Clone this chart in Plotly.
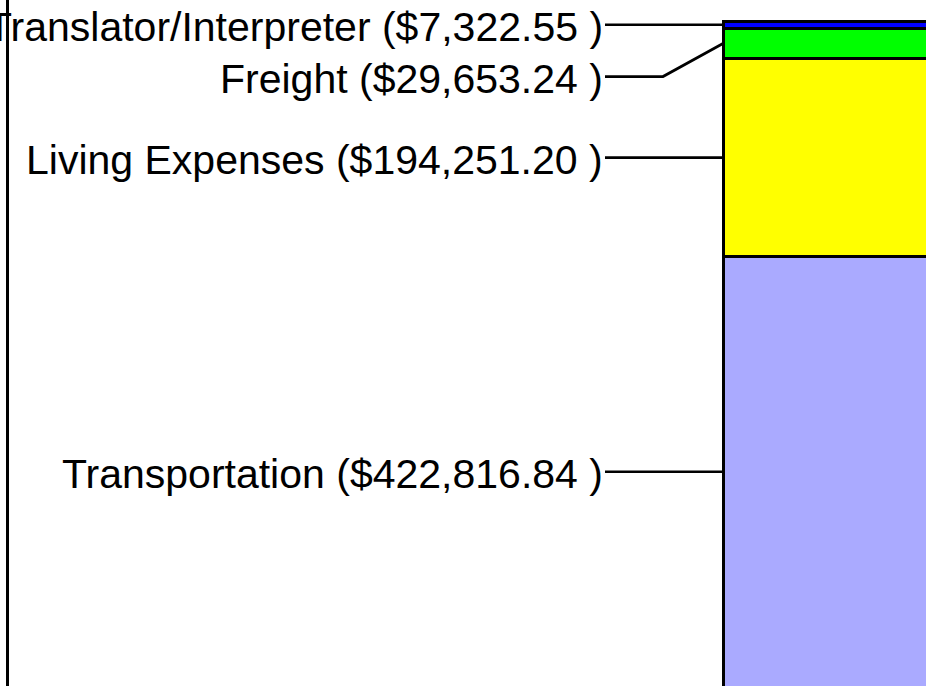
import plotly.graph_objects as go

# ---- data ----
categories = ["Transportation", "Living Expenses", "Freight", "Translator/Interpreter"]
values = [422816.84, 194251.20, 29653.24, 7322.55]
colors = ["#AAAAFF", "#FFFF00", "#00FF00", "#0000FF"]
labels = [f"{c} (${v:,.2f} )" for c, v in zip(categories, values)]

# ---- layout constants (pixels) ----
W, H = 926, 686
BAR_TOP_PX, BAR_BOTTOM_PX = 21, 687
BAR_LEFT, BAR_WIDTH = 723, 420
LABEL_RIGHT = 605
ELBOW_X = 663
label_drop_px = [0, 0, 33, 0]  # extra downward offset of a label from its anchor
FONT = "Liberation Sans, Arial, sans-serif"

total = sum(values)
k = (BAR_BOTTOM_PX - BAR_TOP_PX) / total  # px per unit
y_lo = (BAR_BOTTOM_PX - H) / k
y_hi = BAR_BOTTOM_PX / k

fig = go.Figure()
for cat, v, col in zip(categories, values, colors):
    fig.add_trace(go.Bar(
        x=[BAR_LEFT + BAR_WIDTH / 2], y=[v], width=[BAR_WIDTH], name=cat,
        marker=dict(color=col, line=dict(color="black", width=3)),
        showlegend=False, hoverinfo="skip",
    ))

annotations = []
cum = 0.0
for i, (v, lab) in enumerate(zip(values, labels)):
    mid = cum + v / 2
    cum += v
    label_y = mid - label_drop_px[i] / k
    if label_drop_px[i]:
        xs = [LABEL_RIGHT, ELBOW_X, BAR_LEFT]
        ys = [label_y, label_y, mid]
    else:
        xs = [LABEL_RIGHT, BAR_LEFT]
        ys = [mid, mid]
    fig.add_trace(go.Scatter(x=xs, y=ys, mode="lines",
                             line=dict(color="black", width=2.7),
                             showlegend=False, hoverinfo="skip"))
    annotations.append(dict(
        x=LABEL_RIGHT, y=label_y, xref="x", yref="y", text=lab,
        showarrow=False, xanchor="right", yanchor="middle", yshift=-2,
        font=dict(family=FONT, size=41, color="black"),
    ))

fig.add_shape(type="line", xref="x", yref="paper", x0=7.5, x1=7.5, y0=0, y1=1,
              line=dict(color="black", width=3))

fig.update_layout(
    width=W, height=H, barmode="stack",
    margin=dict(l=0, r=0, t=0, b=0),
    paper_bgcolor="white", plot_bgcolor="white",
    xaxis=dict(range=[0, W], visible=False, fixedrange=True),
    yaxis=dict(range=[y_lo, y_hi], visible=False, fixedrange=True),
    annotations=annotations,
)
fig.write_html("out.html", config={"displayModeBar": False},
               post_script="document.body.style.margin='0';document.body.style.overflow='hidden';")
